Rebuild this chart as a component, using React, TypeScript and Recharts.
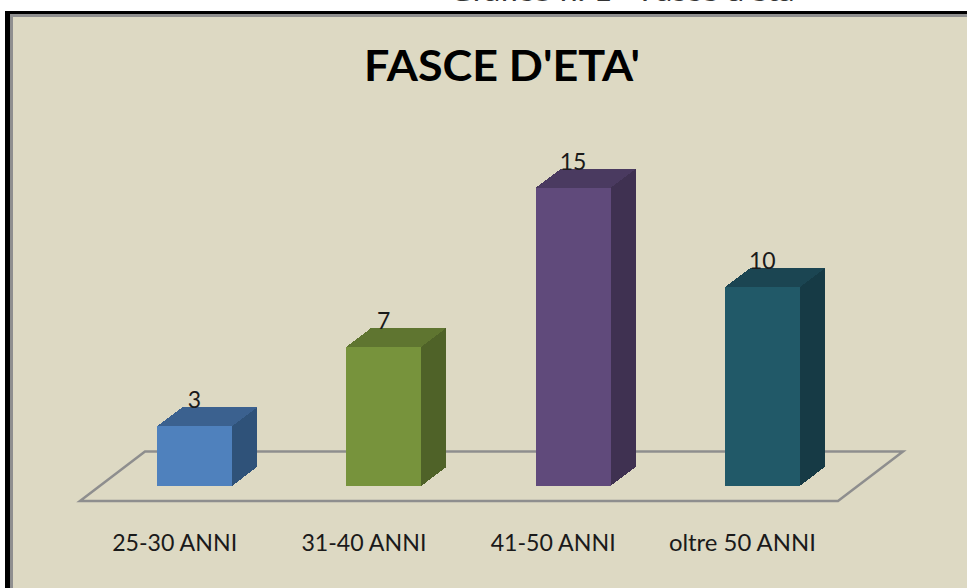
import { BarChart, Bar, XAxis, YAxis, LabelList, Customized } from 'recharts'

const categories = ['25-30 ANNI', '31-40 ANNI', '41-50 ANNI', 'oltre 50 ANNI']
const values = [3, 7, 15, 10]

const frontColors = ['#4F81BD', '#77933C', '#604A7B', '#215968']
const topColors = ['#3B618F', '#5F7530', '#4A3A60', '#1B4552']
const sideColors = ['#2F5279', '#4F6228', '#3F3151', '#163A45']

const data = categories.map((name, i) => ({ name, value: values[i] }))

const DEPTH_X = 25
const DEPTH_Y = 19

const FONT = 'Lato, sans-serif'

function Box3D({ x, y, width, height, index }: any) {
  const r = x + width
  const b = y + height
  return (
    <g shapeRendering="crispEdges">
      <polygon
        points={`${x},${y} ${r},${y} ${r + DEPTH_X},${y - DEPTH_Y} ${x + DEPTH_X},${y - DEPTH_Y}`}
        fill={topColors[index]}
      />
      <polygon
        points={`${r},${y} ${r + DEPTH_X},${y - DEPTH_Y} ${r + DEPTH_X},${b - DEPTH_Y} ${r},${b}`}
        fill={sideColors[index]}
      />
      <rect x={x} y={y} width={width} height={height} fill={frontColors[index]} />
    </g>
  )
}

function Backdrop() {
  return (
    <g>
      <text x={622} y={1} textAnchor="middle" fontFamily={FONT} fontSize={24} fill="#333" textLength={345} lengthAdjust="spacingAndGlyphs">
        Grafico n. 1 - Fasce d'età
      </text>
      <text x={502} y={81} textAnchor="middle" fontFamily={FONT} fontWeight={700} fontSize={42} fill="#000" textLength={276} lengthAdjust="spacingAndGlyphs">
        FASCE D'ETA'
      </text>
      <polygon points="80,501 838,501 903,451.5 145,451.5" fill="none" stroke="#8E8E8E" strokeWidth={2.5} />
    </g>
  )
}

function CategoryTick({ x, y, payload }: any) {
  const wide = payload.value.startsWith('oltre')
  return (
    <text x={x - 20} y={y + 57} textAnchor="middle" fontFamily={FONT} fontSize={23} fill="#1a1a1a" textLength={wide ? 147 : 125} lengthAdjust="spacingAndGlyphs">
      {payload.value}
    </text>
  )
}

export default function App() {
  return (
    <div style={{ position: 'absolute', left: 0, top: 0, width: 967, height: 588, overflow: 'hidden', background: '#fff' }}>
      <div style={{ position: 'absolute', left: 5, top: 11, right: 0, bottom: 0, background: '#000' }} />
      <div style={{ position: 'absolute', left: 10, top: 14, right: 0, bottom: 0, background: '#8F8F8F' }} />
      <div style={{ position: 'absolute', left: 13, top: 17, right: 0, bottom: 0, background: '#DDD9C3' }} />
      <div style={{ position: 'absolute', left: 0, top: 0 }}>
        <BarChart
          width={967}
          height={588}
          data={data}
          margin={{ top: 188, right: 110, bottom: 72, left: 100 }}
          barSize={75}
        >
          <Customized component={Backdrop} />
          <XAxis dataKey="name" axisLine={false} tickLine={false} height={30} interval={0} tick={<CategoryTick />} />
          <YAxis hide domain={[0, 15]} />
          <Bar dataKey="value" shape={<Box3D />} isAnimationActive={false}>
            <LabelList dataKey="value" position="top" offset={18} fontFamily={FONT} fontSize={23} fill="#1a1a1a" />
          </Bar>
        </BarChart>
      </div>
    </div>
  )
}
